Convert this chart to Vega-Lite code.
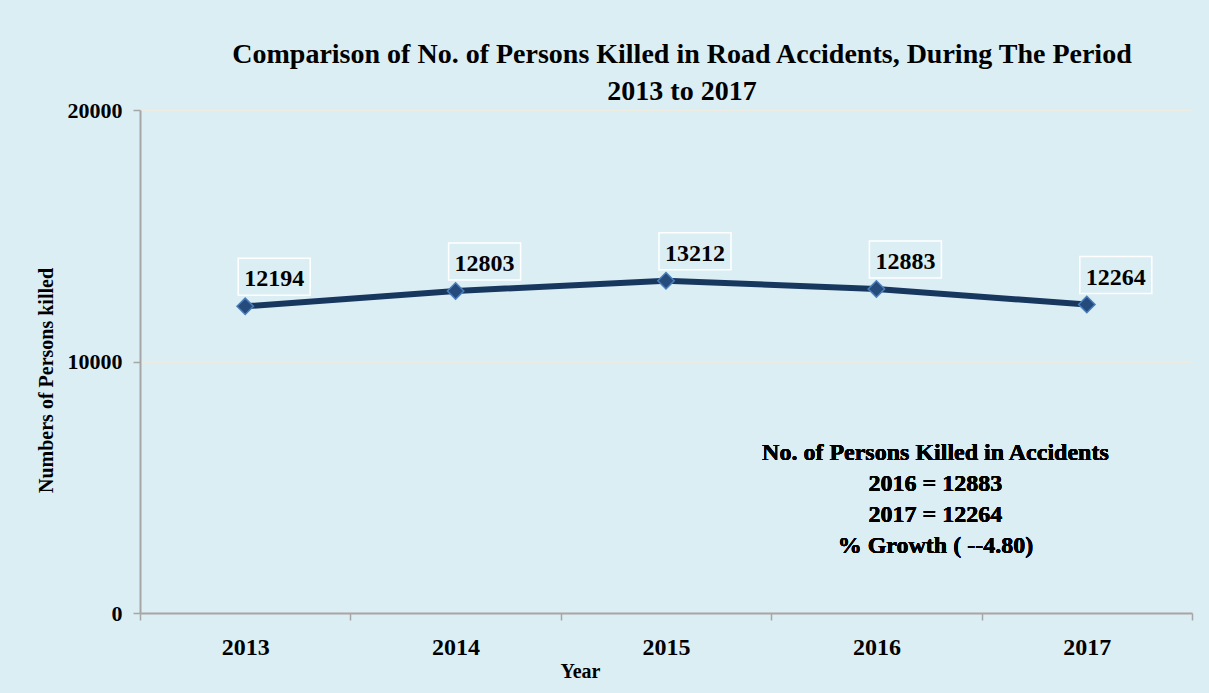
{
  "$schema": "https://vega.github.io/schema/vega-lite/v6.json",
  "width": 1052,
  "height": 503,
  "autosize": {"type": "none"},
  "padding": {"left": 140, "top": 110, "right": 17, "bottom": 80},
  "background": "#DBEEF4",
  "config": {
    "view": {"stroke": null},
    "font": "'Liberation Serif', 'Times New Roman', serif",
    "text": {"font": "'Liberation Serif', 'Times New Roman', serif"},
    "title": {"font": "'Liberation Serif', 'Times New Roman', serif"}
  },
  "title": {
    "text": ["Comparison of No. of Persons Killed in Road Accidents, During The Period", "2013 to 2017"],
    "font": "'Liberation Serif', 'Times New Roman', serif",
    "fontSize": 28,
    "fontWeight": "bold",
    "color": "#000000",
    "anchor": "middle",
    "frame": "group",
    "lineHeight": 37,
    "dx": 16,
    "dy": 11,
    "offset": 4
  },
  "data": {
    "values": [
      {"Year": "2013", "Killed": 12194},
      {"Year": "2014", "Killed": 12803},
      {"Year": "2015", "Killed": 13212},
      {"Year": "2016", "Killed": 12883},
      {"Year": "2017", "Killed": 12264}
    ]
  },
  "encoding": {
    "x": {
      "field": "Year",
      "type": "ordinal",
      "scale": {"type": "band", "paddingInner": 0, "paddingOuter": 0},
      "axis": {
        "title": "Year",
        "titleFont": "'Liberation Serif', 'Times New Roman', serif",
        "titleFontSize": 20,
        "titleFontWeight": "bold",
        "titleColor": "#000000",
        "titleX": 440,
        "titleY": 64,
        "titleAlign": "center",
        "titleBaseline": "alphabetic",
        "labelAngle": 0,
        "labelFont": "'Liberation Serif', 'Times New Roman', serif",
        "labelFontSize": 24,
        "labelFontWeight": "bold",
        "labelColor": "#000000",
        "labelBaseline": "alphabetic",
        "labelPadding": 34,
        "tickBand": "extent",
        "tickSize": 7,
        "tickColor": "#A6A6A6",
        "tickWidth": 1.5,
        "domainColor": "#A6A6A6",
        "domainWidth": 2,
        "grid": false
      }
    },
    "y": {
      "field": "Killed",
      "type": "quantitative",
      "scale": {"domain": [0, 20000], "nice": false},
      "axis": {
        "title": "Numbers  of Persons killed",
        "titleFont": "'Liberation Serif', 'Times New Roman', serif",
        "titleFontSize": 20,
        "titleFontWeight": "bold",
        "titleColor": "#000000",
        "titleAngle": -90,
        "titleX": -88,
        "titleY": 270,
        "titleAlign": "center",
        "titleBaseline": "alphabetic",
        "values": [0, 10000, 20000],
        "format": "d",
        "labelFont": "'Liberation Serif', 'Times New Roman', serif",
        "labelFontSize": 22,
        "labelFontWeight": "bold",
        "labelColor": "#000000",
        "labelPadding": 11,
        "tickSize": 7,
        "tickColor": "#A6A6A6",
        "tickWidth": 1.5,
        "domainColor": "#A6A6A6",
        "domainWidth": 2,
        "grid": true,
        "gridColor": "#EEECE1",
        "gridWidth": 1.5
      }
    }
  },
  "layer": [
    {
      "mark": {"type": "line", "color": "#17375E", "strokeWidth": 6}
    },
    {
      "mark": {
        "type": "point",
        "shape": "diamond",
        "size": 270,
        "filled": true,
        "fill": "#254A7C",
        "stroke": "#4A7EBB",
        "strokeWidth": 1.5,
        "opacity": 1
      }
    },
    {
      "mark": {
        "type": "point",
        "shape": "M-7,-48L65,-48L65,-11L-7,-11Z",
        "size": 4,
        "filled": false,
        "stroke": "#FFFFFF",
        "strokeWidth": 1.5,
        "opacity": 1
      }
    },
    {
      "mark": {
        "type": "text",
        "dx": 29,
        "dy": -20,
        "align": "center",
        "baseline": "alphabetic",
        "font": "'Liberation Serif', 'Times New Roman', serif",
        "fontSize": 24,
        "fontWeight": "bold",
        "color": "#000000"
      },
      "encoding": {"text": {"field": "Killed", "type": "quantitative", "format": "d"}}
    },
    {
      "mark": {
        "type": "text",
        "text": ["No. of Persons Killed  in Accidents", "2016 = 12883", "2017 = 12264", "% Growth ( --4.80)"],
        "align": "center",
        "baseline": "alphabetic",
        "lineHeight": 31,
        "dx": 59,
        "font": "'Liberation Serif', 'Times New Roman', serif",
        "fontSize": 24,
        "fontWeight": "bold",
        "color": "#000000"
      },
      "encoding": {
        "x": {"datum": "2016", "type": "ordinal"},
        "y": {"datum": 6083, "type": "quantitative"}
      }
    }
  ]
}
